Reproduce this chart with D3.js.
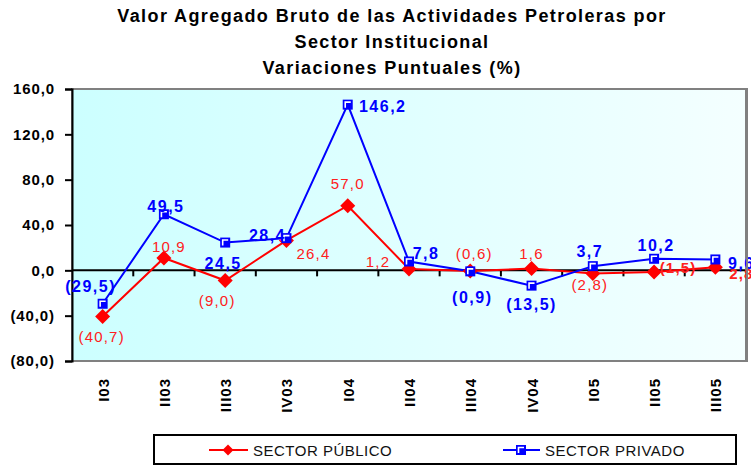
<!DOCTYPE html>
<html>
<head>
<meta charset="utf-8">
<script src="https://cdn.jsdelivr.net/npm/d3@7"></script>
<style>
  body { margin: 0; background: #fff; }
  svg { display: block; font-family: "Liberation Sans", Arial, sans-serif; }
</style>
</head>
<body>
<div id="chart"></div>
<script>
// data
var categories = ["I03", "II03", "III03", "IV03", "I04", "II04", "III04", "IV04", "I05", "II05", "III05"];
var publico = [-40.7, 10.9, -9.0, 26.4, 57.0, 1.2, -0.6, 1.6, -2.8, -1.5, 2.8];
var privado = [-29.5, 49.5, 24.5, 28.4, 146.2, 7.8, -0.9, -13.5, 3.7, 10.2, 9.6];
var yTicks = [-80, -40, 0, 40, 80, 120, 160];
var titleLines = ["Valor Agregado Bruto de las Actividades Petroleras por", "Sector Institucional", "Variaciones Puntuales (%)"];

// where each value label sits relative to its point
var pubLabelOff = [[-1,20],[5,-11],[-8,20],[27,13],[0,-22],[-31,-7],[4,-17],[0,-15],[-3,11],[24,-4],[26,7]];
var pubLabelBold = [0,0,0,0,0,0,0,0,0,1,1];
var privLabelOff = [[-12,-17],[2,-8],[-2,21],[-19,-3],[35,2],[17,-8],[2,26],[0,19],[-3,-15],[2,-13],[26,4]];

var W = 751, H = 466;
var pL = 72, pR = 746, pT = 89, pB = 361;

var svg = d3.select("#chart").append("svg")
  .attr("width", W).attr("height", H);

var fmt = function(v){
  var s = Math.abs(v).toFixed(1).replace(".", ",");
  return v < 0 ? "(" + s + ")" : s;
};

// title
svg.append("g").selectAll("text").data(titleLines).enter().append("text")
  .attr("x", 392).attr("y", function(d,i){ return 22 + i*26; })
  .attr("text-anchor", "middle")
  .attr("font-size", 18).attr("font-weight", "bold")
  .attr("letter-spacing", 1.4)
  .attr("fill", "#000")
  .text(function(d){ return d; });

var x = d3.scaleBand().domain(categories).range([pL, pR]);
var y = d3.scaleLinear().domain([-80, 160]).range([pB, pT]);
var cx = function(i){ return x(categories[i]) + x.bandwidth()/2; };

// plot background
var grad = svg.append("defs").append("linearGradient").attr("id", "bg")
  .attr("x1", "0%").attr("x2", "100%").attr("y1", "0%").attr("y2", "0%");
grad.append("stop").attr("offset", "0%").attr("stop-color", "#ccffff");
grad.append("stop").attr("offset", "100%").attr("stop-color", "#f4ffff");

svg.append("rect")
  .attr("x", pL).attr("y", pT)
  .attr("width", pR-pL).attr("height", pB-pT)
  .attr("fill", "url(#bg)")
  .attr("stroke", "#808080").attr("stroke-width", 2);

// y axis
var yAxis = svg.append("g")
  .attr("transform", "translate(" + pL + ",0)")
  .call(d3.axisLeft(y).tickValues(yTicks).tickFormat(fmt).tickSize(7).tickPadding(10));
yAxis.select(".domain").attr("stroke", "#000").attr("stroke-width", 2);
yAxis.selectAll(".tick line").attr("stroke", "#000").attr("stroke-width", 2);
yAxis.selectAll("text")
  .attr("font-size", 15).attr("font-weight", "bold").attr("letter-spacing", 0.9)
  .attr("font-family", "Liberation Sans, Arial, sans-serif").attr("fill", "#000");

// zero line with category ticks
var xAxis = svg.append("g")
  .attr("transform", "translate(0," + y(0) + ")");
xAxis.append("line")
  .attr("x1", pL).attr("x2", pR - 1)
  .attr("stroke", "#000").attr("stroke-width", 2);
xAxis.selectAll(".ct").data(categories.slice(1)).enter().append("line")
  .attr("x1", function(d){ return x(d); }).attr("x2", function(d){ return x(d); })
  .attr("y1", 0).attr("y2", 6)
  .attr("stroke", "#000").attr("stroke-width", 2);

// category labels
svg.append("g").selectAll("text").data(categories).enter().append("text")
  .attr("transform", function(d){ return "translate(" + (x(d) + x.bandwidth()/2 + 6) + ",378) rotate(-90)"; })
  .attr("text-anchor", "end")
  .attr("font-size", 15).attr("font-weight", "bold").attr("letter-spacing", 1)
  .attr("fill", "#000")
  .text(function(d){ return d; });

var line = d3.line()
  .x(function(d,i){ return cx(i); })
  .y(function(d){ return y(d); });

// sector publico
svg.append("path").datum(publico)
  .attr("d", line).attr("fill", "none")
  .attr("stroke", "#ff0000").attr("stroke-width", 2);

// sector privado
svg.append("path").datum(privado)
  .attr("d", line).attr("fill", "none")
  .attr("stroke", "#0000ff").attr("stroke-width", 2);

var diamond = "M0,-7.5L7.5,0L0,7.5L-7.5,0Z";
svg.append("g").selectAll("path").data(publico).enter().append("path")
  .attr("d", diamond)
  .attr("transform", function(d,i){ return "translate(" + cx(i) + "," + y(d) + ")"; })
  .attr("fill", "#ff0000");

function squareMarker(g){
  g.append("rect").attr("x", -5).attr("y", -5).attr("width", 10).attr("height", 10).attr("fill", "#0000ff");
  g.append("path").attr("d", "M-2.5,3V-2.5H3").attr("fill", "none")
    .attr("stroke", "#fff").attr("stroke-width", 1.6);
}
svg.append("g").selectAll("g").data(privado).enter().append("g")
  .attr("transform", function(d,i){ return "translate(" + cx(i) + "," + y(d) + ")"; })
  .each(function(){ squareMarker(d3.select(this)); });

// value labels
svg.append("g").selectAll("text").data(publico).enter().append("text")
  .attr("x", function(d,i){ return cx(i) + pubLabelOff[i][0]; })
  .attr("y", function(d,i){ return y(d) + pubLabelOff[i][1]; })
  .attr("dy", ".35em").attr("text-anchor", "middle")
  .attr("font-size", 15).attr("letter-spacing", 1.2)
  .attr("font-weight", function(d,i){ return pubLabelBold[i] ? "bold" : "normal"; })
  .attr("fill", "#ff2020")
  .text(fmt);

svg.append("g").selectAll("text").data(privado).enter().append("text")
  .attr("x", function(d,i){ return cx(i) + privLabelOff[i][0]; })
  .attr("y", function(d,i){ return y(d) + privLabelOff[i][1]; })
  .attr("dy", ".35em").attr("text-anchor", "middle")
  .attr("font-size", 16).attr("font-weight", "bold").attr("letter-spacing", 1.5)
  .attr("fill", "#0000ff")
  .text(fmt);

// right edge of the plot frame sits over the clipped labels
svg.append("line")
  .attr("x1", pR + 1).attr("x2", pR + 1).attr("y1", pT - 1).attr("y2", pB + 1)
  .attr("stroke", "#808080").attr("stroke-width", 2);

// legend
var leg = svg.append("g");
leg.append("rect")
  .attr("x", 154).attr("y", 435).attr("width", 582).attr("height", 29)
  .attr("fill", "#fff").attr("stroke", "#000").attr("stroke-width", 2);

leg.append("line").attr("x1", 209).attr("x2", 248).attr("y1", 450).attr("y2", 450)
  .attr("stroke", "#ff0000").attr("stroke-width", 2);
leg.append("path").attr("d", "M0,-5.5L5.5,0L0,5.5L-5.5,0Z").attr("transform", "translate(228,450)").attr("fill", "#ff0000");
leg.append("text").attr("x", 253).attr("y", 455.5)
  .attr("font-size", 15).attr("letter-spacing", 0.5).attr("fill", "#111").text("SECTOR PÚBLICO");

leg.append("line").attr("x1", 503).attr("x2", 540).attr("y1", 450).attr("y2", 450)
  .attr("stroke", "#0000ff").attr("stroke-width", 2);
squareMarker(leg.append("g").attr("transform", "translate(521,450)"));
leg.append("text").attr("x", 545).attr("y", 455.5)
  .attr("font-size", 15).attr("letter-spacing", 0.5).attr("fill", "#111").text("SECTOR PRIVADO");
</script>
</body>
</html>
